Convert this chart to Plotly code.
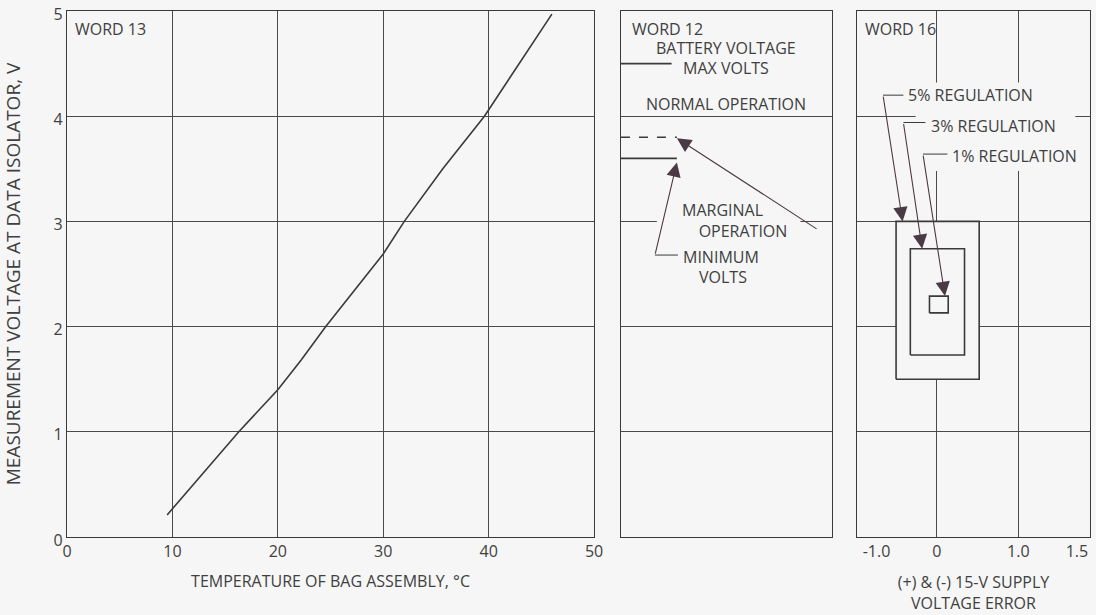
import plotly.graph_objects as go

# ---------------- data ----------------
# WORD 13: measurement voltage vs temperature of bag assembly
temp_c = [9.5, 12.75, 16.3, 20.0, 22.2, 24.55, 30.0, 32.0, 35.65, 39.6, 43.0, 46.0]
volts = [0.21, 0.59, 1.0, 1.40, 1.68, 2.0, 2.69, 3.0, 3.5, 4.0, 4.52, 4.97]
temp_ticks = [0, 10, 20, 30, 40, 50]
volt_ticks = [0, 1, 2, 3, 4, 5]

# WORD 12: battery voltage levels (level value, line length in panel units)
max_volts = 4.5
marginal_volts = 3.8
minimum_volts = 3.6
max_len = 0.24
level_len = 0.265

# WORD 16: regulation boxes (supply voltage error vs measurement voltage)
reg_names = ["5% REGULATION", "3% REGULATION", "1% REGULATION"]
box_x0 = [-0.5, -0.325, -0.09]
box_x1 = [0.52, 0.34, 0.14]
box_y0 = [1.5, 1.73, 2.13]
box_y1 = [3.0, 2.74, 2.29]
err_tick_text = ["-1.0", "0", "1.0", "1.5"]
err_tick_pos = [-0.74, 0, 1.0, 1.72]
err_grid = [0, 1.0]

# ---------------- style ----------------
BG = "#f6f6f6"
INK = "#3a3a3a"
TXT = "#404040"
GRID = "#4a4a4a"
HEAD = "#4a3a44"
FONT = "Open Sans"
FS = 16

fig = go.Figure()

# left panel curve
fig.add_trace(go.Scatter(x=temp_c, y=volts, mode="lines",
                         line=dict(color=INK, width=1.6), xaxis="x", yaxis="y",
                         showlegend=False, hoverinfo="skip"))

# middle panel level lines
fig.add_trace(go.Scatter(x=[0, max_len], y=[max_volts, max_volts], mode="lines",
                         line=dict(color=INK, width=1.6), xaxis="x2", yaxis="y2",
                         showlegend=False, hoverinfo="skip"))
fig.add_trace(go.Scatter(x=[0, level_len], y=[marginal_volts, marginal_volts], mode="lines",
                         line=dict(color=INK, width=1.6, dash="dash"), xaxis="x2", yaxis="y2",
                         showlegend=False, hoverinfo="skip"))
fig.add_trace(go.Scatter(x=[0, level_len], y=[minimum_volts, minimum_volts], mode="lines",
                         line=dict(color=INK, width=1.8), xaxis="x2", yaxis="y2",
                         showlegend=False, hoverinfo="skip"))
# minimum volts leader
fig.add_trace(go.Scatter(x=[0.161, 0.27], y=[2.68, 2.68], mode="lines",
                         line=dict(color=INK, width=1), xaxis="x2", yaxis="y2",
                         showlegend=False, hoverinfo="skip"))

# right panel boxes
for i in range(len(reg_names)):
    fig.add_trace(go.Scatter(
        x=[box_x0[i], box_x1[i], box_x1[i], box_x0[i], box_x0[i]],
        y=[box_y0[i], box_y0[i], box_y1[i], box_y1[i], box_y0[i]],
        mode="lines", fill="toself", fillcolor=BG,
        line=dict(color=INK, width=1.6), xaxis="x3", yaxis="y3",
        showlegend=False, hoverinfo="skip", name=reg_names[i]))

# right panel label leaders
lead_x0 = [-0.66, -0.41, -0.17]
lead_x1 = [-0.41, -0.14, 0.13]
lead_y = [4.2, 3.94, 3.64]
for i in range(3):
    fig.add_trace(go.Scatter(x=[lead_x0[i], lead_x1[i]], y=[lead_y[i], lead_y[i]], mode="lines",
                             line=dict(color=INK, width=1), xaxis="x3", yaxis="y3",
                             showlegend=False, hoverinfo="skip"))

axis_common = dict(showline=True, linecolor=INK, linewidth=1.2, mirror=True,
                   zeroline=False, ticks="", gridcolor=GRID, gridwidth=1,
                   automargin=False,
                   tickfont=dict(family=FONT, size=FS, color=TXT))

fig.update_layout(
    width=1096, height=615,
    paper_bgcolor=BG, plot_bgcolor=BG,
    margin=dict(l=67, r=6, t=11, b=78, autoexpand=False),
    font=dict(family=FONT, size=FS, color=TXT),
    showlegend=False,
    xaxis=dict(domain=[0, 0.5152], range=[0, 50], tickvals=temp_ticks,
               showgrid=True, anchor="y",
               title=dict(text="TEMPERATURE OF BAG ASSEMBLY, °C",
                          font=dict(family=FONT, size=FS, color=TXT), standoff=14),
               **axis_common),
    yaxis=dict(domain=[0, 1], range=[0, 5], tickvals=volt_ticks, showgrid=True,
               anchor="x", ticklabeloverflow="allow", ticklabelshift=3,
               title=dict(text="MEASUREMENT VOLTAGE AT DATA ISOLATOR, V",
                          font=dict(family=FONT, size=19, color=TXT), standoff=32),
               **axis_common),
    xaxis2=dict(domain=[0.5415, 0.7478], range=[0, 1], showticklabels=False,
                showgrid=False, anchor="y2", **axis_common),
    yaxis2=dict(domain=[0, 1], range=[0, 5], tickvals=volt_ticks, showticklabels=False,
                showgrid=True, anchor="x2", **axis_common),
    xaxis3=dict(domain=[0.7722, 1], range=[-0.98, 1.88], tickvals=err_tick_pos,
                ticktext=err_tick_text, showgrid=False, anchor="y3",
                minor=dict(tickvals=err_grid, showgrid=True, gridcolor=GRID,
                           gridwidth=1, ticks=""),
                title=dict(text="(+) & (-) 15-V SUPPLY<br>VOLTAGE ERROR",
                           font=dict(family=FONT, size=FS, color=TXT), standoff=15),
                **axis_common),
    yaxis3=dict(domain=[0, 1], range=[0, 5], tickvals=volt_ticks, showticklabels=False,
                showgrid=True, anchor="x3", **axis_common),
)

# masks that break grid lines behind labels
fig.add_shape(type="rect", xref="x2", yref="y2", x0=0.17, x1=0.85, y0=2.95, y1=3.05,
              fillcolor=BG, line=dict(width=0), layer="between")
fig.add_shape(type="rect", xref="x3", yref="y3", x0=-0.26, x1=1.7, y0=3.48, y1=4.32,
              fillcolor=BG, line=dict(width=0), layer="between")

def label(text, xref, yref, x, y, anchor="center", align="center"):
    fig.add_annotation(text=text, xref=xref, yref=yref, x=x, y=y, showarrow=False,
                       xanchor=anchor, yanchor="middle", align=align,
                       font=dict(family=FONT, size=FS, color=TXT))

label("WORD 13", "x", "y", 0.57, 4.83, "left")
label("WORD 12", "x2", "y2", 0.043, 4.83, "left")
label("BATTERY VOLTAGE", "x2", "y2", 0.50, 4.65)
label("MAX VOLTS", "x2", "y2", 0.50, 4.46)
label("NORMAL OPERATION", "x2", "y2", 0.50, 4.12)
label("MARGINAL<br>&nbsp;&nbsp;&nbsp;&nbsp;OPERATION", "x2", "y2", 0.28, 3.01, "left", "left")
label("MINIMUM", "x2", "y2", 0.285, 2.66, "left")
label("VOLTS", "x2", "y2", 0.485, 2.47)
label("WORD 16", "x3", "y3", -0.91, 4.83, "left")
label_x = [-0.375, -0.10, 0.165]
label_y = [4.2, 3.91, 3.62]
for i in range(3):
    label(reg_names[i], "x3", "y3", label_x[i], label_y[i], "left")

def arrow(xref, yref, tail, tip):
    fig.add_annotation(text="", xref=xref, yref=yref, axref=xref, ayref=yref,
                       x=tip[0], y=tip[1], ax=tail[0], ay=tail[1], showarrow=True,
                       arrowhead=2, arrowsize=2.6, arrowwidth=1.1, arrowcolor=HEAD,
                       standoff=0)

arrow("x2", "y2", (0.934, 2.92), (0.265, 3.79))
arrow("x2", "y2", (0.161, 2.68), (0.265, 3.56))
tails = [(-0.66, 4.2), (-0.41, 3.94), (-0.17, 3.64)]
tips = [(-0.42, 3.0), (-0.18, 2.74), (0.10, 2.29)]
for t, p in zip(tails, tips):
    arrow("x3", "y3", t, p)

fig.write_html("out.html",
               config={"displayModeBar": False},
               post_script="document.body.style.margin='0px';"
                           "document.body.style.background='" + BG + "';")
